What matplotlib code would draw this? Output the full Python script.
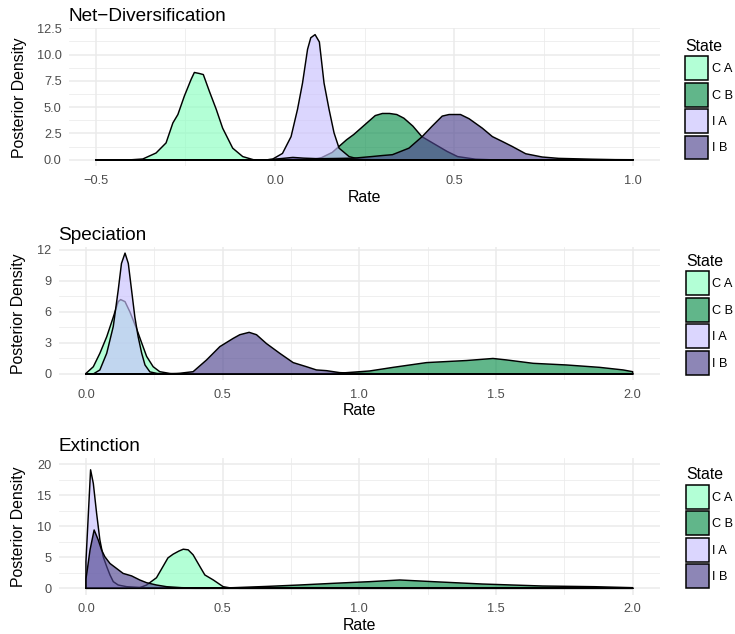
import matplotlib
matplotlib.use("Agg")
import matplotlib.pyplot as plt
from matplotlib.patches import Patch
from matplotlib.colors import to_rgba

plt.rcParams['font.family'] = ['Liberation Sans', 'DejaVu Sans']

states = ["C A", "C B", "I A", "I B"]
base_colors = ["#8affc0", "#0c8f4c", "#c9c0fe", "#504690"]
fill_alpha = 0.65

# ---- Net-Diversification ----
nd_CA_x = [-0.5, -0.40, -0.369, -0.332, -0.304, -0.285, -0.271, -0.253, -0.234, -0.225, -0.211, -0.200, -0.183, -0.164, -0.146, -0.118, -0.090, -0.060, 1.0]
nd_CA_y = [0, 0, 0.07, 0.64, 1.6, 3.5, 4.3, 6.05, 7.65, 8.3, 8.2, 8.1, 6.5, 4.8, 3.0, 1.1, 0.3, 0, 0]
nd_CB_x = [-0.5, 0.10, 0.13, 0.16, 0.18, 0.20, 0.22, 0.24, 0.26, 0.28, 0.30, 0.32, 0.34, 0.36, 0.385, 0.41, 0.44, 0.48, 0.51, 0.56, 0.60, 1.0]
nd_CB_y = [0, 0, 0.2, 0.7, 1.3, 1.9, 2.4, 3.0, 3.6, 4.2, 4.4, 4.4, 4.3, 3.95, 3.2, 2.2, 1.6, 0.8, 0.3, 0.05, 0, 0]
nd_IA_x = [-0.5, -0.02, -0.007, 0.021, 0.045, 0.063, 0.077, 0.091, 0.100, 0.112, 0.124, 0.137, 0.151, 0.165, 0.179, 0.207, 0.235, 0.27, 1.0]
nd_IA_y = [0, 0, 0.05, 0.6, 2.2, 4.8, 7.3, 10.5, 11.6, 11.9, 11.2, 7.3, 4.8, 2.55, 1.1, 0.3, 0.05, 0, 0]
nd_IB_x = [-0.5, -0.02, 0.02, 0.05, 0.08, 0.12, 0.17, 0.22, 0.27, 0.30, 0.328, 0.374, 0.411, 0.439, 0.467, 0.486, 0.518, 0.542, 0.579, 0.607, 0.634, 0.662, 0.70, 0.746, 0.792, 0.885, 0.95, 1.0]
nd_IB_y = [0, 0, 0.12, 0.22, 0.15, 0.1, 0.12, 0.15, 0.3, 0.4, 0.48, 1.1, 2.2, 3.2, 4.15, 4.3, 4.3, 3.9, 3.0, 2.2, 1.75, 1.27, 0.57, 0.26, 0.13, 0.05, 0.01, 0]

# ---- Speciation ----
sp_CA_x = [0.0, 0.0, 0.027, 0.051, 0.076, 0.100, 0.118, 0.127, 0.143, 0.161, 0.185, 0.204, 0.222, 0.246, 0.270, 0.307, 0.35, 2.0]
sp_CA_y = [0, 0.05, 0.7, 2.0, 3.6, 5.5, 7.0, 7.2, 7.0, 6.0, 4.4, 3.0, 1.7, 0.7, 0.22, 0.05, 0, 0]
sp_CB_x = [0.0, 0.85, 0.90, 0.95, 1.002, 1.038, 1.124, 1.246, 1.319, 1.392, 1.489, 1.538, 1.636, 1.758, 1.879, 1.965, 2.0, 2.0]
sp_CB_y = [0, 0, 0.05, 0.12, 0.22, 0.29, 0.64, 1.1, 1.2, 1.3, 1.5, 1.36, 1.03, 0.87, 0.64, 0.39, 0.22, 0]
sp_IA_x = [0.0, 0.027, 0.051, 0.076, 0.100, 0.118, 0.130, 0.143, 0.155, 0.167, 0.179, 0.191, 0.204, 0.216, 0.234, 0.26, 0.30, 2.0]
sp_IA_y = [0, 0, 0.39, 2.0, 4.6, 8.1, 10.7, 11.7, 10.7, 8.1, 5.5, 3.6, 2.0, 0.87, 0.2, 0.05, 0, 0]
sp_IB_x = [0.0, 0.30, 0.344, 0.392, 0.441, 0.490, 0.539, 0.563, 0.597, 0.624, 0.660, 0.709, 0.758, 0.807, 0.843, 0.880, 0.928, 1.0, 1.1, 2.0]
sp_IB_y = [0, 0, 0.07, 0.22, 1.35, 2.65, 3.45, 3.8, 4.03, 3.8, 2.95, 2.0, 1.1, 0.7, 0.39, 0.32, 0.13, 0.05, 0, 0]

# ---- Extinction ----
ex_CA_x = [0.0, 0.15, 0.197, 0.222, 0.258, 0.283, 0.300, 0.319, 0.340, 0.356, 0.374, 0.392, 0.417, 0.435, 0.466, 0.502, 0.53, 0.56, 2.0]
ex_CA_y = [0, 0, 0.1, 0.53, 1.7, 3.6, 4.9, 5.5, 6.0, 6.3, 6.2, 5.4, 3.5, 2.15, 1.34, 0.26, 0.05, 0, 0]
ex_CB_x = [0.0, 0.45, 0.539, 0.66, 0.78, 0.904, 1.002, 1.038, 1.148, 1.270, 1.450, 1.670, 1.860, 2.0, 2.0]
ex_CB_y = [0, 0, 0.1, 0.3, 0.53, 0.8, 1.0, 1.07, 1.34, 1.07, 0.69, 0.37, 0.26, 0.1, 0]
ex_IA_x = [0.0, 0.0, 0.017, 0.027, 0.039, 0.051, 0.063, 0.076, 0.088, 0.100, 0.118, 0.149, 0.21, 0.30, 0.40, 2.0]
ex_IA_y = [0, 4.3, 19.1, 16.9, 12.1, 7.8, 5.1, 3.5, 2.15, 1.07, 0.53, 0.26, 0.1, 0.02, 0, 0]
ex_IB_x = [0.0, 0.0, 0.005, 0.015, 0.030, 0.045, 0.057, 0.069, 0.088, 0.112, 0.136, 0.167, 0.197, 0.222, 0.258, 0.295, 0.35, 0.40, 0.50, 2.0]
ex_IB_y = [0, 1.5, 3.0, 6.2, 9.4, 7.8, 6.2, 5.1, 4.0, 3.2, 2.4, 2.0, 1.34, 0.9, 0.53, 0.26, 0.1, 0.05, 0, 0]

panels = [
    dict(title="Net\u2212Diversification",
         curves=[(nd_CA_x, nd_CA_y), (nd_CB_x, nd_CB_y), (nd_IA_x, nd_IA_y), (nd_IB_x, nd_IB_y)],
         rect=[69/735, 1-166.3/634, 591/735, 138/634],
         xlim=(-0.575, 1.075), ylim=(-0.625, 12.5),
         xticks=[-0.5, 0.0, 0.5, 1.0], xlabels=["\u22120.5", "0.0", "0.5", "1.0"],
         yticks=[0, 2.5, 5, 7.5, 10, 12.5], ylabels=["0.0", "2.5", "5.0", "7.5", "10.0", "12.5"],
         ylab_x=-0.071, leg_y=0.925),
    dict(title="Speciation",
         curves=[(sp_CA_x, sp_CA_y), (sp_CB_x, sp_CB_y), (sp_IA_x, sp_IA_y), (sp_IB_x, sp_IB_y)],
         rect=[58.6/735, 1-380/634, 601.4/735, 133/634],
         xlim=(-0.1, 2.1), ylim=(-0.585, 12.29),
         xticks=[0, 0.5, 1.0, 1.5, 2.0], xlabels=["0.0", "0.5", "1.0", "1.5", "2.0"],
         yticks=[0, 3, 6, 9, 12], ylabels=["0", "3", "6", "9", "12"],
         ylab_x=-0.055, leg_y=0.948),
    dict(title="Extinction",
         curves=[(ex_CA_x, ex_CA_y), (ex_CB_x, ex_CB_y), (ex_IA_x, ex_IA_y), (ex_IB_x, ex_IB_y)],
         rect=[58.6/735, 1-594.5/634, 601.4/735, 136.5/634],
         xlim=(-0.1, 2.1), ylim=(-1.0, 21.0),
         xticks=[0, 0.5, 1.0, 1.5, 2.0], xlabels=["0.0", "0.5", "1.0", "1.5", "2.0"],
         yticks=[0, 5, 10, 15, 20], ylabels=["0", "5", "10", "15", "20"],
         ylab_x=-0.054, leg_y=0.932),
]

fig = plt.figure(figsize=(7.35, 6.34), dpi=100)
grid_col = "#ebebeb"

for p in panels:
    ax = fig.add_axes(p["rect"])
    for (xs, ys), col in zip(p["curves"], base_colors):
        ax.fill(xs, ys, facecolor=to_rgba(col, fill_alpha), edgecolor="black",
                linewidth=1.05, joinstyle="round", zorder=3)
    ax.set_xlim(*p["xlim"])
    ax.set_ylim(*p["ylim"])
    ax.set_xticks(p["xticks"])
    ax.set_xticklabels(p["xlabels"])
    ax.set_yticks(p["yticks"])
    ax.set_yticklabels(p["ylabels"])
    xt = p["xticks"]
    ax.set_xticks([(a + b) / 2 for a, b in zip(xt[:-1], xt[1:])], minor=True)
    yt = p["yticks"]
    ax.set_yticks([(a + b) / 2 for a, b in zip(yt[:-1], yt[1:])], minor=True)
    ax.grid(which="major", color=grid_col, linewidth=1.1, zorder=0)
    ax.grid(which="minor", color=grid_col, linewidth=0.55, zorder=0)
    ax.set_axisbelow(True)
    for s in ax.spines.values():
        s.set_visible(False)
    ax.tick_params(which="both", length=0)
    ax.tick_params(axis="x", pad=6.3, labelsize=9.2, labelcolor="#4d4d4d")
    ax.tick_params(axis="y", pad=5.3, labelsize=9.2, labelcolor="#4d4d4d")
    ax.set_xlabel("Rate", fontsize=11.4, color="black")
    ax.xaxis.set_label_coords(0.5, -0.17)
    ax.set_ylabel("Posterior Density", fontsize=11.4, color="black")
    ax.yaxis.set_label_coords(p["ylab_x"], 0.5)
    ax.set_title(p["title"], loc="left", fontsize=13.7, pad=5)
    handles = [Patch(facecolor=to_rgba(c, fill_alpha), edgecolor="black", linewidth=1.1, label=s)
               for s, c in zip(states, base_colors)]
    ax.legend(handles=handles, title="State", loc="upper left",
              bbox_to_anchor=(1.043, p["leg_y"]), frameon=False,
              fontsize=9.2, title_fontsize=11.4, handlelength=1.8, handleheight=2.5,
              handletextpad=0.25, labelspacing=0.2, borderpad=0, borderaxespad=0,
              alignment="left")

fig.savefig("out.png", dpi=100)
